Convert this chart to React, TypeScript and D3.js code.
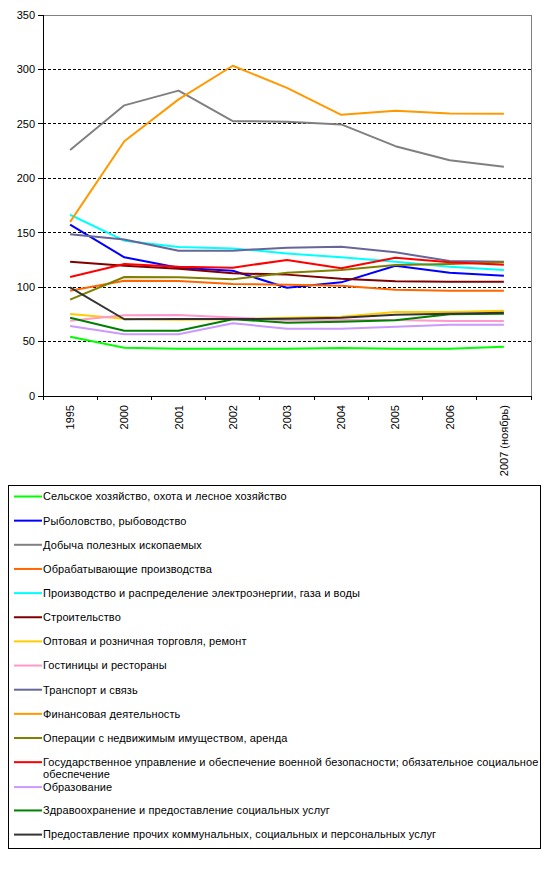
import React from "react";
import * as d3 from "d3";

const categories = ["1995", "2000", "2001", "2002", "2003", "2004", "2005", "2006", "2007 (ноябрь)"];
const yTicks = [0, 50, 100, 150, 200, 250, 300, 350];

const seriesNames = [
  "Сельское хозяйство, охота и лесное хозяйство",
  "Рыболовство, рыбоводство",
  "Добыча полезных ископаемых",
  "Обрабатывающие производства",
  "Производство и распределение электроэнергии, газа и воды",
  "Строительство",
  "Оптовая и розничная торговля, ремонт",
  "Гостиницы и рестораны",
  "Транспорт и связь",
  "Финансовая деятельность",
  "Операции с недвижимым имуществом, аренда",
  "Государственное управление и обеспечение военной безопасности; обязательное социальное|обеспечение",
  "Образование",
  "Здравоохранение и предоставление социальных услуг",
  "Предоставление прочих коммунальных, социальных и персональных услуг",
];

const seriesColors = [
  "#00FF00", "#0000FF", "#808080", "#FF6600", "#00FFFF", "#800000", "#FFCC00", "#FF99CC",
  "#666699", "#FF9900", "#808000", "#FF0000", "#CC99FF", "#008000", "#333333",
];

const agriculture = [54.5, 44.4, 43.5, 43.5, 43.5, 44.1, 43.5, 43.5, 45.3];
const fishing = [157.4, 127.4, 117.9, 115.1, 99.5, 104.4, 119.7, 113.3, 110.5];
const mining = [226, 267, 280.5, 252.5, 252, 249.5, 229.5, 216.5, 210.5];
const manufacturing = [96.7, 105.9, 105.6, 102.9, 102.3, 101.3, 97.6, 96.7, 96.7];
const energy = [166.5, 142.7, 136.9, 135.6, 131, 127.4, 123.4, 118.8, 115.7];
const construction = [123.4, 119.7, 117, 112.7, 111.5, 107.8, 105.4, 105, 105];
const trade = [75.3, 71, 70.1, 70.5, 71.9, 72.9, 77.2, 77.2, 78.4];
const hotels = [69.2, 74.1, 74.4, 72, 69.5, 69.8, 69.8, 68.9, 68.9];
const transport = [148.5, 143.8, 133.5, 133.5, 136.3, 137.2, 132, 124, 123.4];
const finance = [160, 234, 272.5, 303.4, 283, 258.3, 262, 259.5, 259.2];
const realEstate = [88.5, 109.3, 109, 107.2, 113.3, 115.7, 120.3, 121.3, 122.8];
const government = [109.3, 121.3, 118.8, 117.9, 125, 117.3, 127, 122.8, 120.6];
const education = [64.3, 56.7, 56.7, 66.8, 61.8, 61.8, 63.7, 65.5, 65.5];
const health = [71.9, 60, 60, 70.5, 67.4, 68.3, 69.5, 75, 75.6];
const otherServices = [99.8, 70.5, 70.7, 70.7, 71, 71.9, 74.7, 75.6, 76.5];

const seriesValues = [
  agriculture, fishing, mining, manufacturing, energy, construction, trade, hotels,
  transport, finance, realEstate, government, education, health, otherServices,
];

const FONT = "'Liberation Sans', Arial, sans-serif";

export default function App() {
  const left = 43, right = 531, top = 15, bottom = 396;
  const x = d3.scaleBand<string>().domain(categories).range([left, right]).padding(0);
  const y = d3.scaleLinear().domain([0, 350]).range([bottom, top]);
  const cx = (c: string) => (x(c) as number) + x.bandwidth() / 2;
  const line = d3.line<number>().x((_, i) => cx(categories[i])).y((v) => y(v));

  const legendTop = 496.5;
  const legendStep = 24.15;

  return (
    <svg width={546} height={874} style={{ position: "absolute", left: 0, top: 0, background: "#fff" }}
      fontFamily={FONT}>
      {/* gridlines */}
      {yTicks.filter((t) => t > 0 && t < 350).map((t) => (
        <line key={t} x1={left} x2={right} y1={y(t)} y2={y(t)} stroke="#000" strokeWidth={1}
          strokeDasharray="3,2" shapeRendering="crispEdges" />
      ))}
      {/* plot border */}
      <line x1={left} x2={right} y1={top} y2={top} stroke="#808080" shapeRendering="crispEdges" />
      <line x1={right} x2={right} y1={top} y2={bottom} stroke="#808080" shapeRendering="crispEdges" />
      {/* series */}
      {seriesValues.map((vals, i) => (
        <path key={i} d={line(vals) || ""} fill="none" stroke={seriesColors[i]} strokeWidth={2}
          strokeLinejoin="round" />
      ))}
      {/* y axis */}
      <line x1={left} x2={left} y1={top} y2={bottom} stroke="#000" shapeRendering="crispEdges" />
      {yTicks.map((t) => (
        <g key={t}>
          <line x1={left - 5} x2={left} y1={y(t)} y2={y(t)} stroke="#000" shapeRendering="crispEdges" />
          <text x={left - 8} y={y(t)} dy="0.35em" textAnchor="end" fontSize={11}>{t}</text>
        </g>
      ))}
      {/* x axis */}
      <line x1={left} x2={right} y1={bottom} y2={bottom} stroke="#000" shapeRendering="crispEdges" />
      {categories.map((c, i) => (
        <line key={"t" + i} x1={x(c) as number} x2={x(c) as number} y1={bottom} y2={bottom + 4}
          stroke="#000" shapeRendering="crispEdges" />
      ))}
      <line x1={right} x2={right} y1={bottom} y2={bottom + 4} stroke="#000" shapeRendering="crispEdges" />
      {categories.map((c) => (
        <text key={c} transform={`translate(${cx(c) + 4},${bottom + 9}) rotate(-90)`} textAnchor="end"
          fontSize={11}>{c}</text>
      ))}
      {/* legend */}
      <rect x={8.5} y={485.5} width={532} height={363} fill="none" stroke="#000" shapeRendering="crispEdges" />
      {seriesNames.map((name, i) => {
        const ly = legendTop + legendStep * i + (i === 12 ? 0.8 : 0);
        const parts = name.split("|");
        return (
          <g key={name}>
            <line x1={14} x2={42} y1={ly} y2={ly} stroke={seriesColors[i]} strokeWidth={2} />
            {parts.map((p, j) => (
              <text key={j} x={43} y={ly + j * 12} dy="0.35em" fontSize={11} letterSpacing={0.1}>{p}</text>
            ))}
          </g>
        );
      })}
    </svg>
  );
}
